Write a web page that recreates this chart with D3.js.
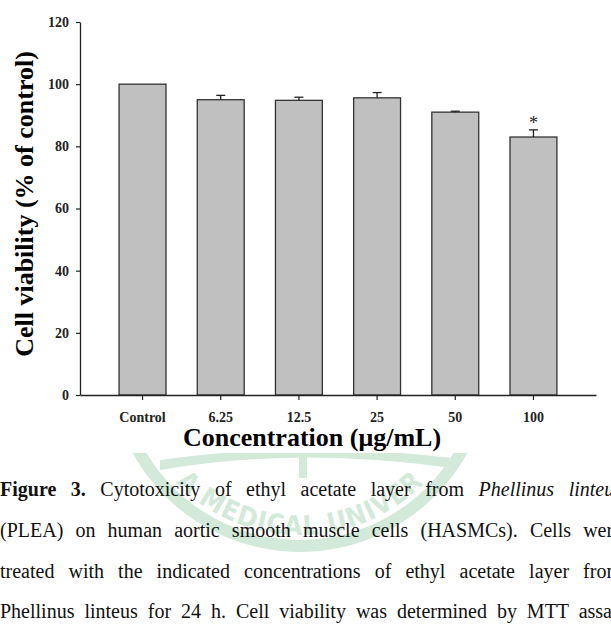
<!DOCTYPE html>
<html>
<head>
<meta charset="utf-8">
<script src="https://cdn.jsdelivr.net/npm/d3@7"></script>
<style>
  body { margin: 0; background: #fff; overflow: hidden; }
  #wrap { position: relative; width: 611px; height: 642px; overflow: hidden; }
  svg { position: absolute; left: 0; top: 0; }
  .cap {
    position: absolute; left: 0; width: 622px; height: 22px; line-height: 22px;
    font-family: "Liberation Serif", "Times New Roman", serif; font-size: 20px; color: #111;
    text-align: justify; text-align-last: justify; white-space: nowrap;
  }
  .cap span { white-space: normal; }
</style>
</head>
<body>
<div id="wrap"></div>
<script>
const categories = ["Control", "6.25", "12.5", "25", "50", "100"];
const viability = [100, 95.0, 94.8, 95.6, 91.0, 83.0];
const errors = [0, 1.4, 1.0, 1.7, 0.3, 2.3];
const significant = [false, false, false, false, false, true];
const yTicks = [0, 20, 40, 60, 80, 100, 120];

const captionLines = [
  [["b", "Figure 3."], ["", "Cytotoxicity of ethyl acetate layer from"], ["i", "Phellinus linteus"]],
  [["", "(PLEA) on human aortic smooth muscle cells (HASMCs). Cells were"]],
  [["", "treated with the indicated concentrations of ethyl acetate layer from"]],
  [["", "Phellinus linteus for 24 h. Cell viability was determined by MTT assay"]]
];

const wrap = d3.select("#wrap");
const svg = wrap.append("svg").attr("width", 611).attr("height", 642);
const serif = "'Liberation Serif', 'Times New Roman', serif";

// faint watermark seal, only visible below the chart
svg.append("clipPath").attr("id", "belowChart")
  .append("rect").attr("x", 0).attr("y", 453).attr("width", 611).attr("height", 200);
const wm = svg.append("g").attr("fill", "#d3e9da").attr("clip-path", "url(#belowChart)");
const cx = 300, cy = 361;
wm.append("path")
    .attr("d", d3.arc()({ innerRadius: 179, outerRadius: 191, startAngle: 0, endAngle: 2 * Math.PI }))
    .attr("transform", `translate(${cx},${cy})`);
wm.append("path")
    .attr("d", "M160,470 Q300,446 452,468 L452,458 Q300,440 160,460 Z");
wm.append("path").attr("id", "sealArc")
    .attr("fill", "none")
    .attr("d", `M ${cx - 174},${cy} A 174 174 0 0 0 ${cx + 174},${cy}`);
wm.append("text")
    .style("font-family", "'DejaVu Sans Condensed', 'DejaVu Sans', sans-serif").style("font-weight", "bold")
    .style("font-stretch", "condensed")
    .style("font-size", "27px").attr("letter-spacing", 1)
  .append("textPath")
    .attr("href", "#sealArc").attr("startOffset", "50%").attr("text-anchor", "middle")
    .text("A MEDICAL UNIVER");
wm.append("rect").attr("x", 299).attr("y", 456).attr("width", 8).attr("height", 22);

const margin = { top: 22, left: 80, right: 596, bottom: 395 };

const x = d3.scaleBand()
    .domain(categories)
    .range([margin.left, margin.right])
    .paddingInner(0.4)
    .paddingOuter(0.5);

const y = d3.scaleLinear()
    .domain([0, 120])
    .range([margin.bottom, margin.top]);

const data = categories.map((c, i) => ({ c, v: viability[i], e: errors[i], s: significant[i] }));

// bars
svg.append("g").selectAll("rect")
    .data(data)
  .enter().append("rect")
    .attr("x", d => x(d.c))
    .attr("y", d => y(d.v))
    .attr("width", x.bandwidth())
    .attr("height", d => y(0) - y(d.v))
    .attr("fill", "#c0c0c0")
    .attr("stroke", "#333")
    .attr("stroke-width", 1.3);

// error bars
const eb = svg.append("g").attr("stroke", "#222").attr("stroke-width", 1.3);
data.filter(d => d.e > 0).forEach(d => {
    const mx = x(d.c) + x.bandwidth() / 2;
    eb.append("line").attr("x1", mx).attr("x2", mx).attr("y1", y(d.v)).attr("y2", y(d.v + d.e));
    eb.append("line").attr("x1", mx - 4.5).attr("x2", mx + 4.5).attr("y1", y(d.v + d.e)).attr("y2", y(d.v + d.e));
});

// significance star
svg.append("g").selectAll("text")
    .data(data.filter(d => d.s))
  .enter().append("text")
    .attr("x", d => x(d.c) + x.bandwidth() / 2)
    .attr("y", d => y(d.v + d.e) - 1)
    .attr("text-anchor", "middle")
    .style("font-family", serif).style("font-size", "18px").style("fill", "#222")
    .text("*");

// axes
const yAxis = svg.append("g")
    .attr("transform", `translate(${margin.left},0)`)
    .call(d3.axisLeft(y).tickValues(yTicks).tickSize(4).tickSizeOuter(0).tickPadding(7));

const xAxis = svg.append("g")
    .attr("transform", `translate(0,${margin.bottom})`)
    .call(d3.axisBottom(x).tickSize(5).tickSizeOuter(0).tickPadding(12));

[yAxis, xAxis].forEach(g => {
    g.select(".domain").attr("stroke", "#222").attr("stroke-width", 1.3);
    g.selectAll(".tick line").attr("stroke", "#222").attr("stroke-width", 1.2);
    g.selectAll(".tick text")
        .style("font-family", serif).style("font-weight", "bold")
        .style("font-size", "14px").style("fill", "#222");
});

// axis titles
svg.append("text")
    .attr("transform", "translate(33,204) rotate(-90)")
    .attr("text-anchor", "middle")
    .style("font-family", serif).style("font-weight", "bold").style("font-size", "26px")
    .text("Cell viability (% of control)");

svg.append("text")
    .attr("x", 312).attr("y", 446)
    .attr("text-anchor", "middle")
    .style("font-family", serif).style("font-weight", "bold").style("font-size", "26px")
    .text("Concentration (\u03bcg/mL)");

// caption
const capTops = [478, 519, 560, 600];
captionLines.forEach((parts, i) => {
    const div = wrap.append("div").attr("class", "cap").style("top", capTops[i] + "px");
    parts.forEach((p, j) => {
        const sp = div.append("span").text((j > 0 ? " " : "") + p[1] + (p[0] === "b" ? " " : ""));
        if (p[0] === "b") sp.style("font-weight", "bold");
        if (p[0] === "i") sp.style("font-style", "italic");
    });
});
</script>
</body>
</html>
